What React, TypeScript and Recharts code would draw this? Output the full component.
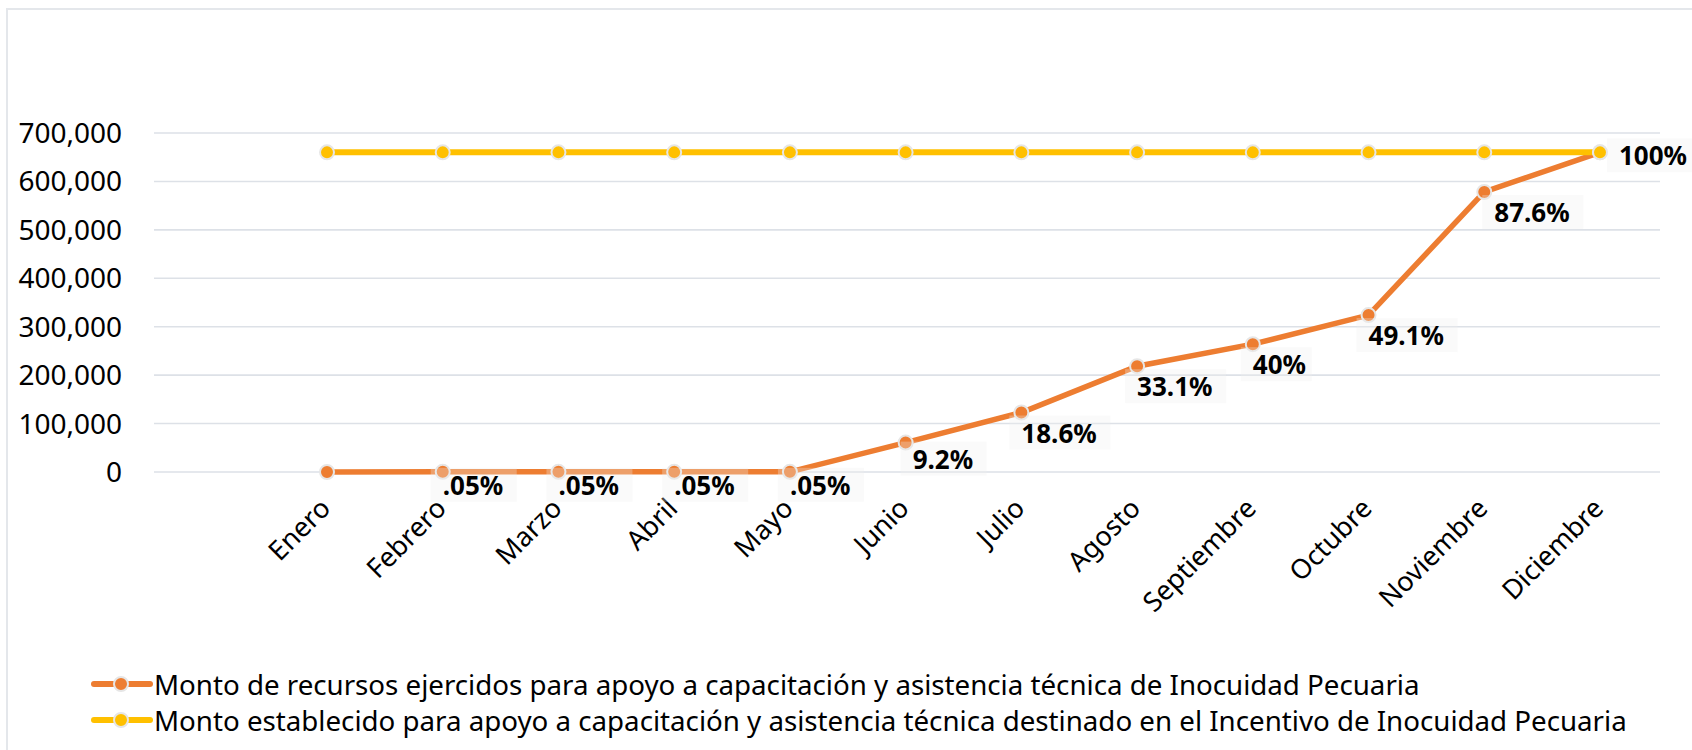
import React from 'react';
import {LineChart, Line, XAxis, YAxis, CartesianGrid, Legend, LabelList} from 'recharts';

const meses = ['Enero', 'Febrero', 'Marzo', 'Abril', 'Mayo', 'Junio', 'Julio', 'Agosto', 'Septiembre', 'Octubre', 'Noviembre', 'Diciembre'];
const ejercido = [0, 330, 330, 330, 330, 60700, 122800, 218500, 264000, 324100, 578200, 660000];
const establecido = [660000, 660000, 660000, 660000, 660000, 660000, 660000, 660000, 660000, 660000, 660000, 660000];
const avance = ['', '.05%', '.05%', '.05%', '.05%', '9.2%', '18.6%', '33.1%', '40%', '49.1%', '87.6%', '100%'];
const yTicks = [0, 100000, 200000, 300000, 400000, 500000, 600000, 700000];

const nombreEjercido = 'Monto de recursos ejercidos para apoyo a capacitación y asistencia técnica de Inocuidad Pecuaria';
const nombreEstablecido = 'Monto establecido para apoyo a capacitación y asistencia técnica destinado en el Incentivo de Inocuidad Pecuaria';

const NARANJA = '#ED7D31';
const AMARILLO = '#FFC000';
const FONT = '"Noto Sans", sans-serif';

const data = meses.map((mes, i) => ({
    mes,
    ejercido: ejercido[i],
    establecido: establecido[i],
    avance: avance[i],
}));

// where each % label sits relative to its point (like the excel layout)
const labelShift = (i: number) => {
    if (i === meses.length - 1) return {dx: 19, dy: 3};
    if (i >= 1 && i <= 4) return {dx: 0, dy: 13};
    if (i === 5) return {dx: 7, dy: 16};
    if (i === 10) return {dx: 10, dy: 20};
    return {dx: 0, dy: 20};
};

const renderAvance = (props: any) => {
    const {x, y, value, index} = props;
    if (!value) return null;
    const {dx, dy} = labelShift(index);
    const w = String(value).length * 15 + 26;
    return (
        <g>
            <rect x={x + dx - 12} y={y + dy - 17} width={w} height={34} fill="#efefef" fillOpacity={0.3}/>
            <text x={x + dx} y={y + dy} dominantBaseline="central" fontFamily={FONT} fontWeight="bold"
                  fontSize={26} fill="#000">{value}</text>
        </g>
    );
};

const MesTick = (props: any) => {
    const {x, y, payload} = props;
    const tx = x + 5;
    return (
        <text x={tx} y={y} transform={`rotate(-45, ${tx}, ${y})`} textAnchor="end" fontFamily={FONT}
              fontSize={27} fill="#000">{payload.value}</text>
    );
};

const LegendIcon = ({color}: { color: string }) => (
    <svg width={62} height={20} style={{display: 'block'}}>
        <line x1={3} y1={10} x2={59} y2={10} stroke={color} strokeWidth={6} strokeLinecap="round"/>
        <circle cx={30} cy={10} r={7} fill={color} stroke="#e6e6e6" strokeWidth={2}/>
    </svg>
);

const renderLegend = () => (
    <div style={{height: 88, paddingTop: 4, boxSizing: 'border-box', paddingLeft: 91, fontFamily: FONT, fontSize: 27.7, color: '#000'}}>
        {[{c: NARANJA, t: nombreEjercido}, {c: AMARILLO, t: nombreEstablecido}].map((it) => (
            <div key={it.t} style={{display: 'flex', alignItems: 'center', height: 36, whiteSpace: 'nowrap'}}>
                <LegendIcon color={it.c}/>
                <span style={{marginLeft: 1}}>{it.t}</span>
            </div>
        ))}
    </div>
);

const App: React.FC = () => {
    return (
        <div style={{position: 'relative', width: 1692, height: 750, background: '#fff', overflow: 'hidden'}}>
            <style>{'body{margin:0}'}</style>
            <div style={{position: 'absolute', left: 6, top: 8, width: 2, height: 742, background: '#e4e7eb'}}/>
            <div style={{position: 'absolute', left: 6, top: 8, width: 1686, height: 2, background: '#e4e7eb'}}/>
            <LineChart width={1692} height={750} data={data} margin={{top: 133, right: 32, left: 0, bottom: 0}}>
                <CartesianGrid vertical={false} stroke="#dde1e7" strokeWidth={1.6}/>
                <XAxis dataKey="mes" interval={0} axisLine={false} tickLine={false} tickSize={0} tickMargin={38}
                       height={190} padding={{left: 173, right: 60}} tick={<MesTick/>}/>
                <YAxis width={154} domain={[0, 700000]} ticks={yTicks} axisLine={false} tickLine={false}
                       tickSize={0} tickMargin={32} tickFormatter={(v: number) => v.toLocaleString('en-US')}
                       tick={{fontFamily: FONT, fontSize: 28, fill: '#000'}}/>
                <Legend verticalAlign="bottom" content={renderLegend} wrapperStyle={{left: 0, width: 1692}}/>
                <Line dataKey="ejercido" name={nombreEjercido} stroke={NARANJA} strokeWidth={5.5}
                      dot={{r: 7, fill: NARANJA, stroke: '#e6e6e6', strokeWidth: 2}} isAnimationActive={false}>
                    <LabelList dataKey="avance" content={renderAvance}/>
                </Line>
                <Line dataKey="establecido" name={nombreEstablecido} stroke={AMARILLO} strokeWidth={6}
                      dot={{r: 7, fill: AMARILLO, stroke: '#e6e6e6', strokeWidth: 2}} isAnimationActive={false}/>
            </LineChart>
        </div>
    );
};

export default App;
